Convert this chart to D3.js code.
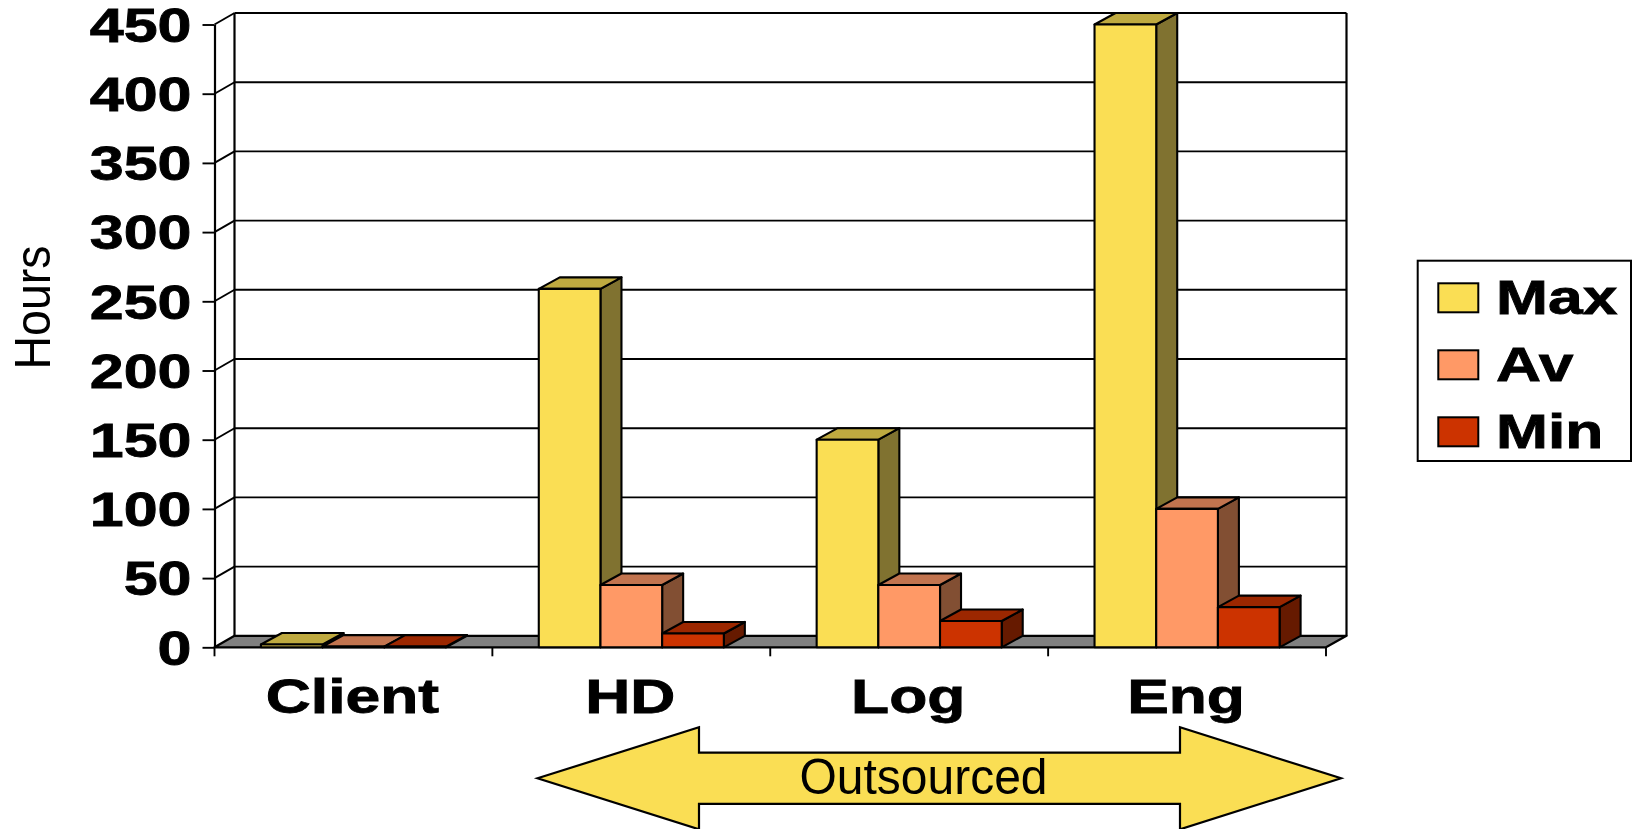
<!DOCTYPE html>
<html>
<head>
<meta charset="utf-8">
<title>Hours by support tier</title>
<script src="https://cdn.jsdelivr.net/npm/d3@7"></script>
<style>
  html, body { margin: 0; padding: 0; background: #fff; overflow: hidden; }
  svg { display: block; }
  text { font-family: "Liberation Sans", Arial, sans-serif; fill: #000; }
  .bold { font-weight: 700; font-size: 48px; stroke: #000; stroke-width: 0.8px; }
  .plain { font-weight: 400; font-size: 50px; }
</style>
</head>
<body>
<svg id="chart" width="1634" height="829"></svg>
<script>
// Chart data
const categories = ["Client", "HD", "Log", "Eng"];
const seriesNames = ["Max", "Av", "Min"];
const maxValues = [2, 259, 150, 450];
const avValues = [0.5, 45, 45, 100];
const minValues = [0.5, 10, 19, 29];
const yTicks = [0, 50, 100, 150, 200, 250, 300, 350, 400, 450];

// Face colours per series
const frontColors = ["#FADE54", "#FF9966", "#CC3300"];
const topColors = ["#BFAA40", "#C2744F", "#9C2700"];
const sideColors = ["#807230", "#824F33", "#661A00"];

const seriesValues = [maxValues, avValues, minValues];

// Plot frame: front floor edge plus the oblique offset of the back wall
const frame = { left: 214.5, right: 1326, top: 24.5, bottom: 647.3, dx: 20, dy: -11.5 };
const barDepth = 21;
const textStretch = 1.3;
const tickStretch = 1.27;

const svg = d3.select("#chart");

const y = d3.scaleLinear().domain([0, 450]).range([frame.bottom, frame.top]);
const x0 = d3.scaleBand().domain(categories)
  .range([frame.left, frame.right])
  .paddingInner(0.334).paddingOuter(0.167);
const x1 = d3.scaleBand().domain(seriesNames).range([0, x0.bandwidth()]);

const poly = pts => pts.map(p => p.join(",")).join(" ");

// Back wall, floor and gridlines
const wall = svg.append("g").attr("fill", "none").attr("stroke", "#000");
wall.append("g").selectAll("line").data(yTicks.filter(t => t > 0)).join("line")
  .attr("x1", frame.left + frame.dx).attr("x2", frame.right + frame.dx + 0.5)
  .attr("y1", d => y(d) + frame.dy).attr("y2", d => y(d) + frame.dy)
  .attr("stroke-width", d => d === 450 ? 2.2 : 1.9);
wall.append("g").selectAll("line").data(yTicks.filter(t => t > 0)).join("line")
  .attr("x1", frame.left).attr("x2", frame.left + frame.dx)
  .attr("y1", d => y(d)).attr("y2", d => y(d) + frame.dy)
  .attr("stroke-width", 1.9);
wall.append("polygon")
  .attr("points", poly([
    [frame.left, frame.bottom], [frame.right, frame.bottom],
    [frame.right + frame.dx + 0.5, frame.bottom + frame.dy], [frame.left + frame.dx, frame.bottom + frame.dy]
  ]))
  .attr("fill", "#808080").attr("stroke-width", 2.2).attr("stroke-linejoin", "round");
wall.selectAll("line.vert").data([frame.left + frame.dx, frame.right + frame.dx + 0.5]).join("line")
  .attr("class", "vert")
  .attr("x1", d => d).attr("x2", d => d)
  .attr("y1", frame.top + frame.dy).attr("y2", frame.bottom + frame.dy)
  .attr("stroke-width", 2.2);

// Y axis with its ticks and stretched labels
const yAxis = svg.append("g")
  .attr("transform", `translate(${frame.left},0)`)
  .call(d3.axisLeft(y).tickValues(yTicks).tickSize(12).tickSizeOuter(0).tickPadding(0));
yAxis.select(".domain").attr("stroke", "#000").attr("stroke-width", 2.2);
yAxis.selectAll(".tick line").attr("stroke", "#000").attr("stroke-width", 1.9);
yAxis.selectAll(".tick text")
  .attr("class", "bold")
  .attr("x", null).attr("dy", null)
  .attr("text-anchor", "end")
  .attr("transform", `translate(-23,16.8) scale(${tickStretch},1)`);

// Category axis: labels sit at band centres, ticks on the band boundaries
const xAxis = svg.append("g")
  .attr("transform", `translate(0,${frame.bottom})`)
  .call(d3.axisBottom(x0).tickSize(0).tickPadding(0));
xAxis.select(".domain").remove();
xAxis.selectAll(".tick text")
  .attr("class", "bold")
  .attr("y", null).attr("dy", null)
  .attr("text-anchor", "middle")
  .attr("transform", `translate(-1,66) scale(${textStretch},1)`);
svg.append("g").selectAll("line")
  .data(d3.range(categories.length + 1))
  .join("line")
  .attr("x1", i => frame.left + i * x0.step()).attr("x2", i => frame.left + i * x0.step())
  .attr("y1", frame.bottom).attr("y2", frame.bottom + 9)
  .attr("stroke", "#000").attr("stroke-width", 1.9);

// 3-D columns, left to right so that nearer faces overlap the previous column's side
const columns = categories.flatMap((cat, c) =>
  seriesNames.map((name, s) => ({ cat, name, s, value: seriesValues[s][c] })));

const col = svg.append("g").selectAll("g").data(columns).join("g")
  .attr("stroke", "#000").attr("stroke-width", 2.1).attr("stroke-linejoin", "round");

const bx = d => x0(d.cat) + x1(d.name);
const bw = x1.bandwidth();

col.append("polygon").attr("fill", d => sideColors[d.s])
  .attr("points", d => poly([
    [bx(d) + bw, y(d.value)], [bx(d) + bw + barDepth, y(d.value) + frame.dy],
    [bx(d) + bw + barDepth, y(0) + frame.dy], [bx(d) + bw, y(0)]
  ]));
col.append("polygon").attr("fill", d => topColors[d.s])
  .attr("points", d => poly([
    [bx(d), y(d.value)], [bx(d) + barDepth, y(d.value) + frame.dy],
    [bx(d) + bw + barDepth, y(d.value) + frame.dy], [bx(d) + bw, y(d.value)]
  ]));
col.append("rect").attr("fill", d => frontColors[d.s])
  .attr("x", bx).attr("width", bw)
  .attr("y", d => y(d.value)).attr("height", d => y(0) - y(d.value));

// Axis title
svg.append("text").attr("class", "plain")
  .attr("text-anchor", "middle")
  .attr("transform", "translate(49.5,307.5) rotate(-90) scale(0.93,1)")
  .text("Hours");

// Legend
const legend = svg.append("g");
legend.append("rect")
  .attr("x", 1417.7).attr("y", 260.7).attr("width", 213.3).attr("height", 200.3)
  .attr("fill", "#fff").attr("stroke", "#000").attr("stroke-width", 2);
const legendRow = d3.scalePoint().domain(seriesNames).range([283.3, 417.3]);
const rows = legend.selectAll("g").data(seriesNames).join("g")
  .attr("transform", d => `translate(0,${legendRow(d)})`);
rows.append("rect")
  .attr("x", 1438.3).attr("width", 40).attr("height", 29)
  .attr("fill", (d, i) => frontColors[i]).attr("stroke", "#000").attr("stroke-width", 2);
rows.append("text").attr("class", "bold")
  .attr("transform", `translate(1496,30.5) scale(${textStretch},1)`)
  .text(d => d);

// Double-headed bracket arrow beneath the outsourced tiers
const arrow = { tipL: 537.5, neckL: 699, neckR: 1180, tipR: 1341, mid: 778.3, head: 51, shaft: 25.6 };
svg.append("polygon")
  .attr("points", poly([
    [arrow.tipL, arrow.mid],
    [arrow.neckL, arrow.mid - arrow.head], [arrow.neckL, arrow.mid - arrow.shaft],
    [arrow.neckR, arrow.mid - arrow.shaft], [arrow.neckR, arrow.mid - arrow.head],
    [arrow.tipR, arrow.mid],
    [arrow.neckR, arrow.mid + arrow.head], [arrow.neckR, arrow.mid + arrow.shaft],
    [arrow.neckL, arrow.mid + arrow.shaft], [arrow.neckL, arrow.mid + arrow.head]
  ]))
  .attr("fill", "#FADE54").attr("stroke", "#000").attr("stroke-width", 2.2);
svg.append("text").attr("class", "plain")
  .attr("text-anchor", "middle")
  .attr("transform", "translate(923.5,794) scale(0.96,1)")
  .text("Outsourced");
</script>
</body>
</html>
